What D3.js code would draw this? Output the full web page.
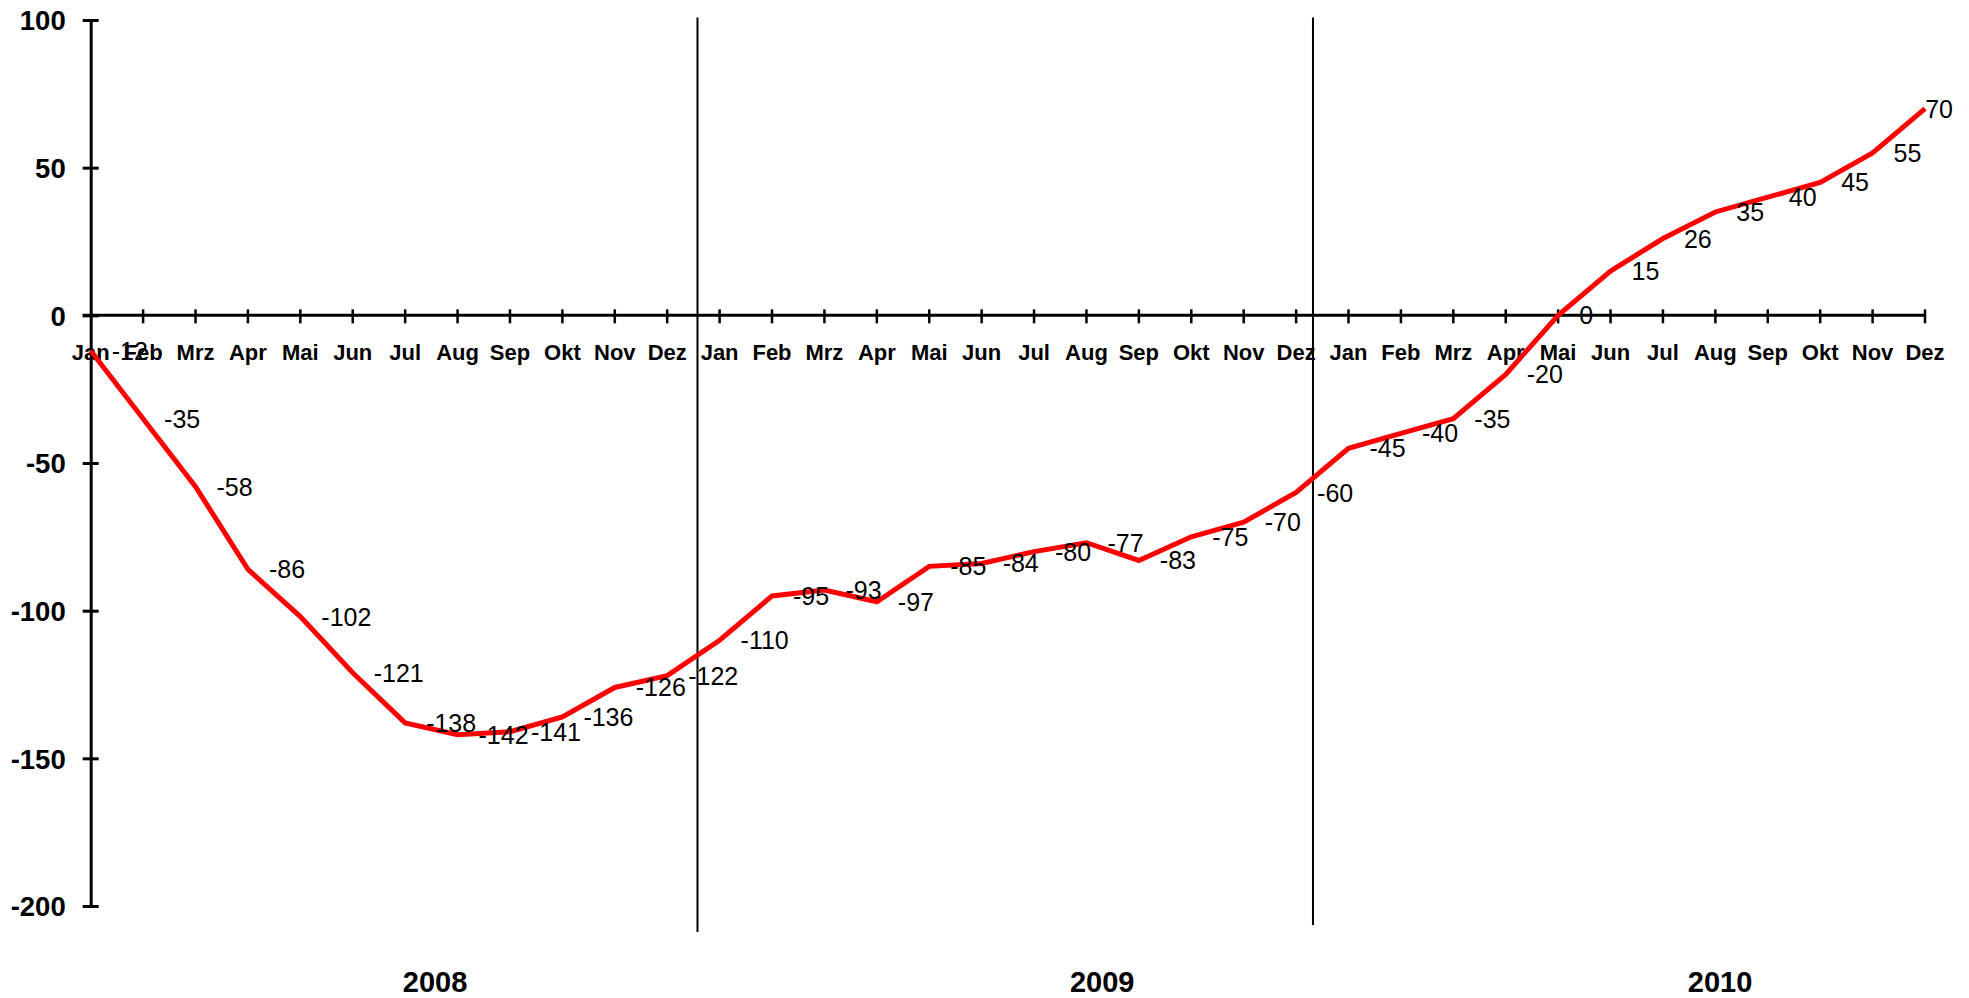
<!DOCTYPE html>
<html>
<head>
<meta charset="utf-8">
<script src="https://cdn.jsdelivr.net/npm/d3@7"></script>
<style>
  html, body { margin: 0; padding: 0; background: #fff; }
  svg { display: block; }
</style>
</head>
<body>
<svg id="chart" width="1969" height="998"></svg>
<script>
// ---- data ----
const months = ["Jan","Feb","Mrz","Apr","Mai","Jun","Jul","Aug","Sep","Okt","Nov","Dez"];
const years = ["2008","2009","2010"];
const values2008 = [-12,-35,-58,-86,-102,-121,-138,-142,-141,-136,-126,-122];
const values2009 = [-110,-95,-93,-97,-85,-84,-80,-77,-83,-75,-70,-60];
const values2010 = [-45,-40,-35,-20,0,15,26,35,40,45,55,70];
const yTicks = [-200,-150,-100,-50,0,50,100];

// ---- build table ----
const series = [values2008, values2009, values2010];
const data = [];
series.forEach((vals, yi) => vals.forEach((v, mi) => data.push({ i: yi * 12 + mi, month: months[mi], year: years[yi], value: v })));

// ---- layout ----
const W = 1969, H = 998;
const FONT = "'Liberation Sans', Arial, Helvetica, sans-serif";
const svg = d3.select("#chart");
const fmt = v => String(v); // plain hyphen-minus as in the original

const x = d3.scaleLinear().domain([0, data.length - 1]).range([90.7, 1925]);
const y = d3.scaleLinear().domain([-200, 100]).range([906, 20]);

// Year separators (fractional category positions) and year label centres
const separatorPos = [11.578, 23.322];
const separatorBottom = [932, 925];
const yearLabelPos = [6.57, 19.30, 31.09];

// ---- y axis ----
const yAxis = d3.axisLeft(y).tickValues(yTicks).tickFormat(fmt).tickSizeInner(8).tickSizeOuter(0).tickPadding(18);
const gy = svg.append("g").attr("transform", `translate(${x(0)},0)`).call(yAxis);
gy.select(".domain").attr("stroke", "#000").attr("stroke-width", 3);
gy.selectAll(".tick line").attr("x1", -8).attr("x2", 8).attr("stroke", "#000").attr("stroke-width", 3);
gy.selectAll(".tick text")
  .attr("font-family", FONT).attr("font-size", 27.5).attr("font-weight", "bold").attr("fill", "#000")
  .attr("x", -25).attr("dy", "0.36em");

// ---- x axis at zero ----
const gx = svg.append("g").attr("transform", `translate(0,${y(0)})`);
gx.append("line").attr("x1", x(0) - 8).attr("x2", x(data.length - 1)).attr("y1", 0).attr("y2", 0)
  .attr("stroke", "#000").attr("stroke-width", 3);
gx.selectAll("line.tick").data(data.filter(d => d.i > 0)).join("line")
  .attr("class", "tick")
  .attr("x1", d => x(d.i)).attr("x2", d => x(d.i))
  .attr("y1", -6).attr("y2", 8).attr("stroke", "#000").attr("stroke-width", 2.5);
gx.selectAll("text").data(data).join("text")
  .attr("x", d => x(d.i)).attr("y", 45)
  .attr("text-anchor", "middle")
  .attr("font-family", FONT).attr("font-size", 22).attr("font-weight", "bold").attr("fill", "#000")
  .text(d => d.month);

// ---- separators ----
svg.selectAll("line.sep").data(separatorPos).join("line")
  .attr("class", "sep")
  .attr("x1", d => x(d)).attr("x2", d => x(d))
  .attr("y1", 17.5).attr("y2", (d, i) => separatorBottom[i])
  .attr("stroke", "#000").attr("stroke-width", 2);

// ---- year labels ----
svg.selectAll("text.year").data(years).join("text")
  .attr("class", "year")
  .attr("x", (d, i) => x(yearLabelPos[i])).attr("y", 991.5)
  .attr("text-anchor", "middle")
  .attr("font-family", FONT).attr("font-size", 29).attr("font-weight", "bold").attr("fill", "#000")
  .text(d => d);

// ---- line ----
const line = d3.line().x(d => x(d.i)).y(d => y(d.value));
svg.append("path").datum(data)
  .attr("d", line)
  .attr("fill", "none").attr("stroke", "#ff0000").attr("stroke-width", 5)
  .attr("stroke-linejoin", "miter");

// ---- data labels ----
const labels = svg.selectAll("text.lbl").data(data).join("text")
  .attr("class", "lbl")
  .attr("x", d => x(d.i) + 21).attr("y", d => y(d.value)).attr("dy", "0.36em")
  .attr("font-family", FONT).attr("font-size", 25).attr("fill", "#000")
  .text(d => fmt(d.value));
labels.each(function () {
  const t = d3.select(this);
  const w = this.getComputedTextLength();
  const xx = +t.attr("x");
  if (xx + w > 1953) t.attr("x", 1953 - w);
});
</script>
</body>
</html>
